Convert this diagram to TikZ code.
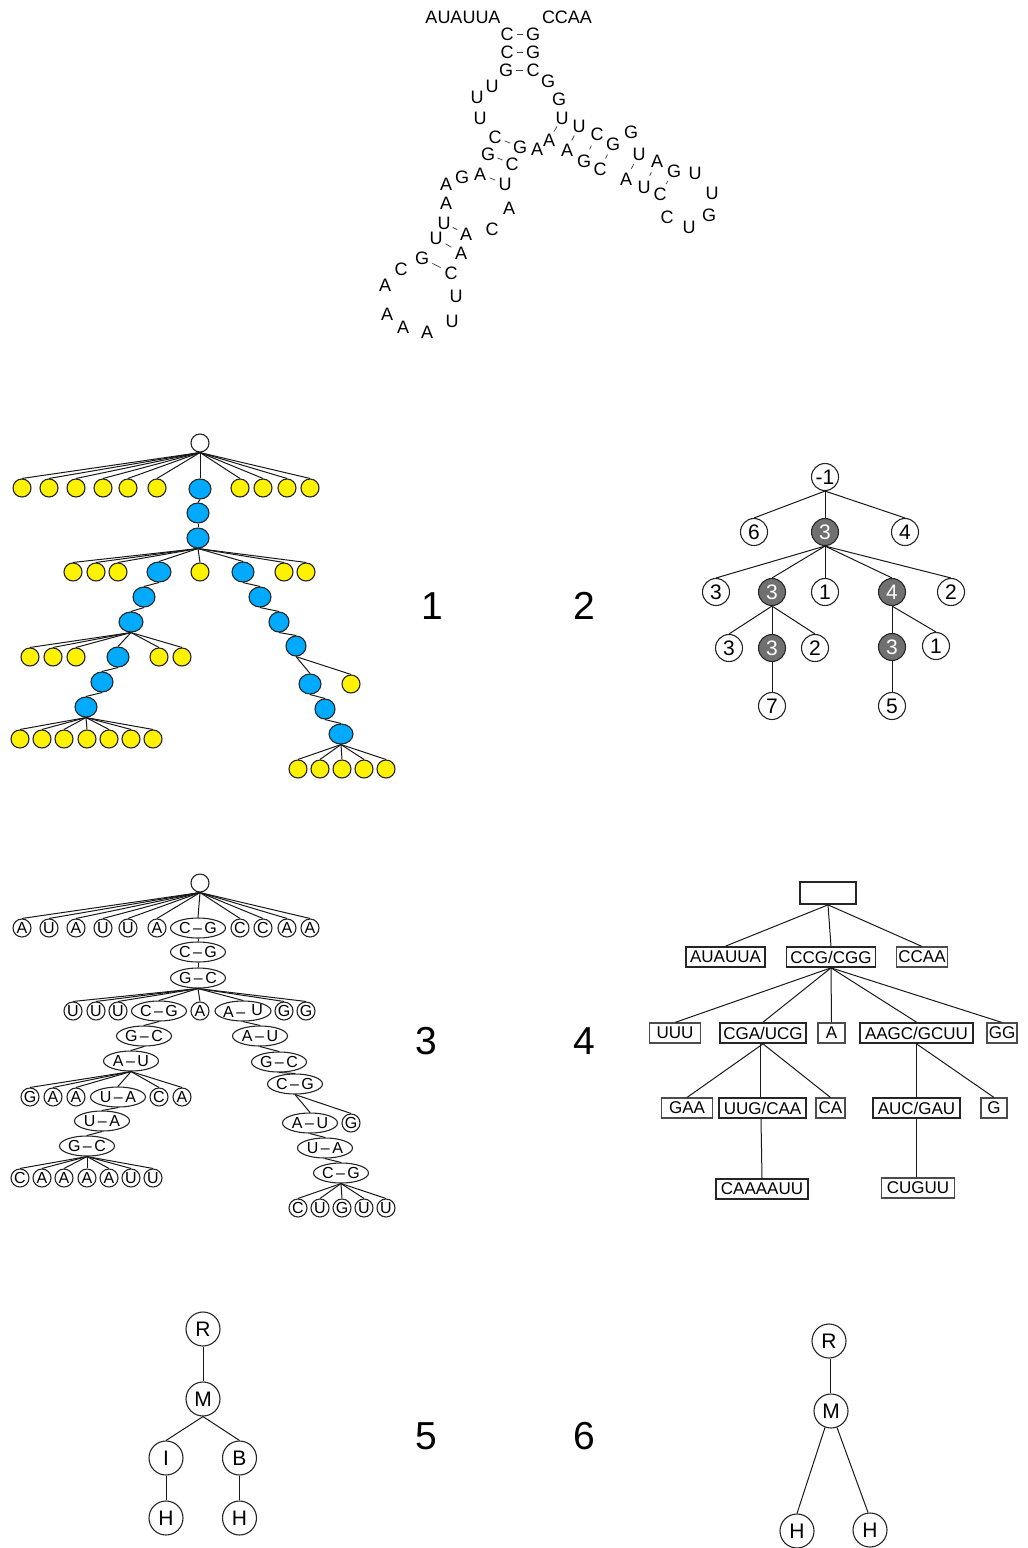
\documentclass[tikz,border=0pt]{standalone}
\usepackage{fontspec}
\setmainfont{Liberation Sans}
\usetikzlibrary{shapes.geometric}
\definecolor{bluen}{RGB}{0,170,255}
\definecolor{grayn}{RGB}{112,112,112}
\tikzset{
 x=1pt,y=-1pt,
 edge/.style={line width=1pt,black!90},
 base/.style={draw=black!85,line width=1.1pt,inner sep=0pt},
 rna/.style={circle,minimum size=19pt,inner sep=0pt,font=\fontsize{18}{18}\selectfont},
 rnaw/.style={inner sep=0pt,font=\fontsize{18}{18}\selectfont},
 pair/.style={line width=.7pt,black!75},
 plain/.style={base,circle,minimum size=18pt,fill=white},
 yel/.style={base,circle,minimum size=18pt,fill=yellow},
 blu/.style={base,ellipse,minimum width=22pt,minimum height=20pt,fill=bluen},
 blw/.style={blu,minimum width=24pt},
 cl/.style={base,circle,minimum size=18pt,font=\fontsize{16}{16}\selectfont},
 el/.style={base,ellipse,minimum width=55pt,minimum height=20pt,font=\fontsize{16}{16}\selectfont},
 box/.style={base,rectangle,minimum height=20pt,font=\fontsize{17}{17}\selectfont,line width=1.7pt},
 tbox/.style={box,line width=1.1pt,draw=black!70},
 num/.style={base,circle,minimum size=27pt,font=\fontsize{21}{21}\selectfont},
 gnum/.style={num,fill=grayn,text=white},
 big/.style={base,circle,minimum size=34pt,font=\fontsize{21}{21}\selectfont},
 lab/.style={inner sep=0pt,font=\fontsize{39}{39}\selectfont},
}
\newcommand{\pr}[2]{#1\hspace{2.5pt}–\hspace{2.5pt}#2}
\begin{document}
\begin{tikzpicture}
\useasboundingbox (0,0) rectangle (1028,1548);
% ---------- secondary structure
\node[rnaw] (w1) at (463,17) {AUAUUA};
\node[rnaw] (w2) at (567,17) {CCAA};
\foreach \n/\l/\x/\y in {
 a1/C/507/34,a2/G/533/34,b1/C/507/52,b2/G/533/52,c1/G/506/70,c2/C/533/70,
 d1/G/548/81,d2/U/492/86,d3/U/477/97,d4/U/480/118,d5/G/559/99,
 e1/U/562/118,e2/A/549/140,f1/U/579/126,f2/A/567/150,g1/C/597/134,g2/G/584/161,
 h1/G/613/144,h2/C/600/169,i1/G/631/132,j1/U/639/154,j2/A/626/179,k1/A/657/161,k2/U/644/187,
 l1/G/674/171,l2/C/660/194,m1/U/695/173,m2/U/712/193,m3/G/709/215,m4/U/689/227,m5/C/667/217,
 n1/A/537/149,o1/C/495/137,o2/G/520/147,p1/G/488/154,p2/C/512/164,q1/A/480/174,q2/U/505/184,
 r1/G/462/177,r2/A/446/184,r3/A/446/203,r4/A/509/208,r5/C/492/229,
 s1/U/444/223,s2/A/466/234,t1/U/436/238,t2/A/461/253,u1/G/422/258,u2/C/451/273,
 v1/C/401/269,v2/A/385/285,v3/A/387/314,v4/A/403/327,v5/A/427/332,v6/U/452/321,v7/U/456/296}
 {\node[rna] (\n) at (\x,\y) {\l};}
\foreach \p/\q/\s in {a1/a2/0,b1/b2/0,c1/c2/0,e1/e2/0,f1/f2/1,g1/g2/3.2,h1/h2/2.2,j1/j2/1.7,k1/k2/3,l1/l2/2,o1/o2/.7,p1/p2/.6,q1/q2/.8,s1/s2/0,t1/t2/1.5,u1/u2/2}
 {\draw[pair,shorten >=\s pt,shorten <=\s pt] (\p) -- (\q);}
% ---------- panel 1
\node[plain] (A0) at (200,443) {};
\foreach \n/\x in {1/22,2/49,3/76,4/103,5/128,6/157,8/240,9/263,10/287,11/310}
 {\node[yel] (A1\n) at (\x,488) {}; \draw[edge] (A0.south) -- (A1\n.north);}
\node[blu] (B1) at (200,489) {};
\node[blu] (B2) at (198,513) {};
\node[blu] (B3) at (198,538) {};
\foreach \n/\x in {1/73,2/96,3/118,5/200,7/284,8/306}
 {\node[yel] (A2\n) at (\x,572) {}; \draw[edge] (B3.south) -- (A2\n.north);}
\node[blw] (B4) at (159,572) {};
\node[blu] (B5) at (243,572) {};
\node[blu] (B6) at (144,597) {};
\node[blu] (B7) at (260,597) {};
\node[blw] (B8) at (131,622) {};
\node[blu,minimum width=20pt] (B9) at (279,622) {};
\node[blu,minimum width=20pt] (B10) at (296,646) {};
\foreach \n/\x in {1/30,2/53,3/76,5/159,6/182}
 {\node[yel] (A3\n) at (\x,657) {}; \draw[edge] (B8.south) -- (A3\n.north);}
\node[blu] (B11) at (118,657) {};
\node[blu] (B12) at (102,682) {};
\node[blu] (B13) at (86,707) {};
\foreach \n/\x in {1/20,2/42,3/64,4/87,5/109,6/131,7/153}
 {\node[yel] (A4\n) at (\x,739) {}; \draw[edge] (B13.south) -- (A4\n.north);}
\node[blu] (B14) at (310,684) {};
\node[yel] (A51) at (351,684) {};
\node[blu,minimum width=20pt] (B15) at (325,709) {};
\node[blw] (B16) at (341,734) {};
\foreach \n/\x in {1/298,2/320,3/342,4/364,5/386}
 {\node[yel] (A6\n) at (\x,769) {}; \draw[edge] (B16.south) -- (A6\n.north);}
\foreach \p/\q in {A0/B1,B1/B2,B2/B3,B3/B4,B3/B5,B4/B6,B5/B7,B6/B8,B7/B9,B9/B10,B8/B11,B11/B12,B12/B13,B10/B14,B10/A51,B14/B15,B15/B16}
 {\draw[edge] (\p.south) -- (\q.north);}
% ---------- panel 2
\node[num] (n0) at (825,477) {-1};
\node[num] (n1) at (754,532) {6};
\node[gnum] (n2) at (825,532) {3};
\node[num] (n3) at (905,532) {4};
\node[num] (n4) at (716,592) {3};
\node[gnum] (n5) at (772,592) {3};
\node[num] (n6) at (825,592) {1};
\node[gnum] (n7) at (892,592) {4};
\node[num] (n8) at (951,592) {2};
\node[num] (n9) at (729,648) {3};
\node[gnum] (n10) at (772,648) {3};
\node[num] (n11) at (815,648) {2};
\node[gnum] (n12) at (892,647) {3};
\node[num] (n13) at (936,646) {1};
\node[num] (n14) at (772,706) {7};
\node[num] (n15) at (892,706) {5};
\foreach \p/\q in {n0/n1,n0/n2,n0/n3,n2/n4,n2/n5,n2/n6,n2/n7,n2/n8,n5/n9,n5/n10,n5/n11,n7/n12,n7/n13,n10/n14,n12/n15}
 {\draw[edge] (\p.south) -- (\q.north);}
% ---------- panel 3
\node[cl] (C0) at (200,883) {};
\foreach \n/\l/\x in {1/A/22,2/U/49,3/A/76,4/U/103,5/U/128,6/A/157,8/C/240,9/C/263,10/A/287,11/A/310}
 {\node[cl] (D1\n) at (\x,928) {\l}; \draw[edge] (C0.south) -- (D1\n.north);}
\node[el] (E1) at (198,928) {\pr CG};
\node[el] (E2) at (198,952) {\pr CG};
\node[el] (E3) at (198,978) {\pr GC};
\foreach \n/\l/\x in {1/U/73,2/U/96,3/U/118,5/A/200,7/G/284,8/G/306}
 {\node[cl] (D2\n) at (\x,1011) {\l}; \draw[edge] (E3.south) -- (D2\n.north);}
\node[el] (E4) at (159,1011) {\pr CG};
\node[el] (E5) at (243,1011) {A\hspace{2.5pt}–\hspace{6pt}\raisebox{2pt}{U}};
\node[el] (E6) at (144,1036) {\pr GC};
\node[el] (E7) at (260,1036) {\pr AU};
\node[el] (E8) at (131,1061) {\pr AU};
\node[el] (E9) at (279,1062) {\pr GC};
\node[el] (E10) at (295,1084) {\pr CG};
\foreach \n/\l/\x in {1/G/30,2/A/53,3/A/76,5/C/159,6/A/182}
 {\node[cl] (D3\n) at (\x,1097) {\l}; \draw[edge] (E8.south) -- (D3\n.north);}
\node[el] (E11) at (118,1097) {\pr UA};
\node[el] (E12) at (102,1121) {\pr UA};
\node[el] (E13) at (87,1146) {\pr GC};
\foreach \n/\l/\x in {1/C/20,2/A/42,3/A/64,4/A/87,5/A/109,6/U/131,7/U/153}
 {\node[cl] (D4\n) at (\x,1178) {\l}; \draw[edge] (E13.south) -- (D4\n.north);}
\node[el] (E14) at (310,1123) {\pr AU};
\node[cl] (D51) at (351,1123) {G};
\node[el] (E15) at (325,1148) {\pr UA};
\node[el] (E16) at (341,1173) {\pr CG};
\foreach \n/\l/\x in {1/C/298,2/U/320,3/G/342,4/U/364,5/U/386}
 {\node[cl] (D6\n) at (\x,1208) {\l}; \draw[edge] (E16.south) -- (D6\n.north);}
\foreach \p/\q in {C0/E1,E1/E2,E2/E3,E3/E4,E3/E5,E4/E6,E5/E7,E6/E8,E7/E9,E9/E10,E8/E11,E11/E12,E12/E13,E10/E14,E10/D51,E14/E15,E15/E16}
 {\draw[edge] (\p.south) -- (\q.north);}
% ---------- panel 4
\node[box,minimum width=56pt,minimum height=22pt] (F0) at (828,893) {};
\node[box,minimum width=79pt] (F1) at (725.5,957) {AUAUUA};
\node[box,minimum width=89pt] (F2) at (831,957) {CCG/CGG};
\node[tbox,minimum width=51pt] (F3) at (922,957) {CCAA};
\node[tbox,minimum width=51pt] (F4) at (675,1033) {UUU};
\node[box,minimum width=86pt] (F5) at (763,1033) {CGA/UCG};
\node[tbox,minimum width=27pt] (F6) at (831.5,1033) {A};
\node[box,minimum width=113pt] (F7) at (916.5,1033) {AAGC/GCUU};
\node[tbox,minimum width=30pt] (F8) at (1002,1033) {GG};
\node[tbox,minimum width=51pt] (F9) at (687,1108) {GAA};
\node[box,minimum width=87pt] (F10) at (762.5,1108) {UUG/CAA};
\node[tbox,minimum width=29pt] (F11) at (830.5,1108) {CA};
\node[box,minimum width=87pt] (F12) at (916.5,1108) {AUC/GAU};
\node[tbox,minimum width=26pt] (F13) at (994,1108) {G};
\node[box,minimum width=92pt] (F14) at (762,1189) {CAAAAUU};
\node[tbox,minimum width=73pt] (F15) at (918,1188) {CUGUU};
\foreach \p/\q in {F0/F1,F0/F2,F0/F3,F2/F4,F2/F5,F2/F6,F2/F7,F2/F8,F5/F9,F5/F11,F7/F12,F7/F13}
 {\draw[edge] (\p.south) -- (\q.north);}
\draw[edge] ([xshift=-2.5pt]F5.south) -- ([xshift=-2pt]F10.north);
\draw[edge] ([xshift=-1.5pt]F10.south) -- (F14.north);
\draw[edge] (F12.south) -- ([xshift=-1.5pt]F15.north);
% ---------- panel 5
\node[big] (G1) at (203,1329) {R};
\node[big] (G2) at (203,1399) {M};
\node[big] (G3) at (166,1458) {I};
\node[big] (G4) at (239.5,1458) {B};
\node[big] (G5) at (166,1518) {H};
\node[big] (G6) at (239.5,1518) {H};
\foreach \p/\q in {G1/G2,G2/G3,G2/G4,G3/G5,G4/G6}
 {\draw[edge] (\p.south) -- (\q.north);}
% ---------- panel 6
\node[big] (H1) at (829,1341) {R};
\node[big] (H2) at (831,1411) {M};
\node[big] (H3) at (797,1531) {H};
\node[big] (H4) at (870,1530) {H};
\draw[edge] ([xshift=1pt]H1.south) -- ([xshift=-1pt]H2.north);
\draw[edge] (H2.-110) -- (H3.north);
\draw[edge] (H2.-70) -- ([xshift=-2pt]H4.north);
% ---------- labels
\node[lab] (L1) at (432,606) {1};
\node[lab] (L2) at (584,606) {2};
\node[lab] (L3) at (426,1041) {3};
\node[lab] (L4) at (584,1041) {4};
\node[lab] (L5) at (426,1436) {5};
\node[lab] (L6) at (584,1436) {6};
\end{tikzpicture}
\end{document}
